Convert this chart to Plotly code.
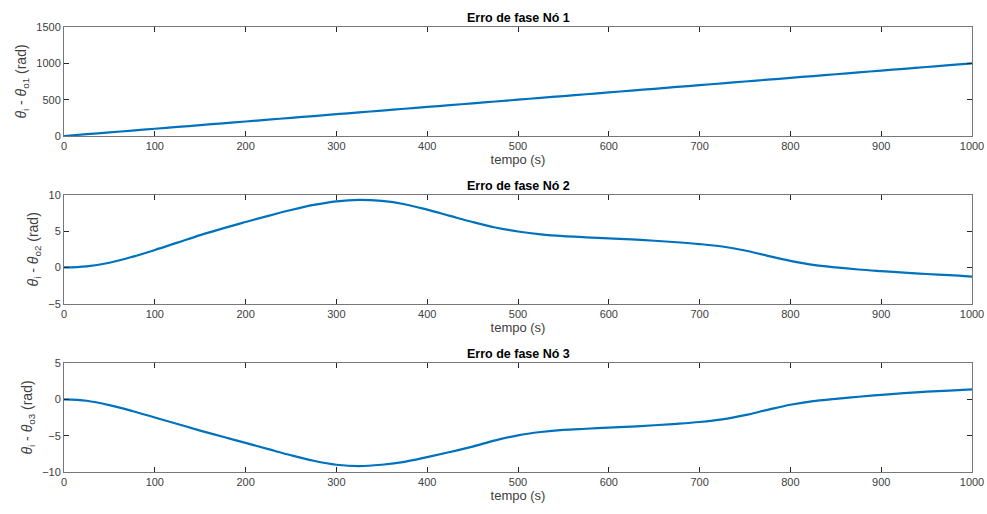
import plotly.graph_objects as go
from plotly.subplots import make_subplots

# time samples (s)
tempo = [0, 25, 50, 75, 100, 125, 150, 175, 200, 225, 250, 275, 300, 325, 350, 375,
         400, 425, 450, 475, 500, 525, 550, 575, 600, 625, 650, 675, 700, 725, 750,
         775, 800, 825, 850, 875, 900, 925, 950, 975, 1000]

# phase error node 1 (rad)
erro_no1 = [0, 25, 50, 75, 100, 125, 150, 175, 200, 225, 250, 275, 300, 325, 350, 375,
            400, 425, 450, 475, 500, 525, 550, 575, 600, 625, 650, 675, 700, 725, 750,
            775, 800, 825, 850, 875, 900, 925, 950, 975, 1000]

# phase error node 2 (rad)
erro_no2 = [0.0, 0.15, 0.65, 1.45, 2.4, 3.42, 4.45, 5.38, 6.25, 7.1, 7.9, 8.6, 9.1, 9.3, 9.15,
            8.7, 7.95, 7.1, 6.25, 5.5, 4.95, 4.55, 4.3, 4.15, 4.0, 3.85, 3.67, 3.47, 3.22, 2.88,
            2.33, 1.6, 0.9, 0.35, 0.0, -0.28, -0.5, -0.7, -0.9, -1.05, -1.25]

# phase error node 3 (rad)
erro_no3 = [0.0, -0.2, -0.8, -1.6, -2.5, -3.4, -4.3, -5.15, -6.0, -6.85, -7.7, -8.45, -9.0, -9.2, -9.0,
            -8.6, -7.95, -7.25, -6.5, -5.65, -4.95, -4.5, -4.2, -4.05, -3.9, -3.75, -3.57, -3.37, -3.12, -2.76,
            -2.18, -1.45, -0.75, -0.25, 0.05, 0.35, 0.62, 0.85, 1.05, 1.2, 1.38]

titulos = ["Erro de fase Nó 1", "Erro de fase Nó 2", "Erro de fase Nó 3"]
ylabels = ["<i>θ</i><sub>i</sub> - <i>θ</i><sub>o1</sub> (rad)",
           "<i>θ</i><sub>i</sub> - <i>θ</i><sub>o2</sub> (rad)",
           "<i>θ</i><sub>i</sub> - <i>θ</i><sub>o3</sub> (rad)"]
yranges = [[0, 1500], [-5, 10], [-10, 5]]
ytickvals = [[0, 500, 1000, 1500], [-5, 0, 5, 10], [-10, -5, 0, 5]]
xticks = [0, 100, 200, 300, 400, 500, 600, 700, 800, 900, 1000]

series = [erro_no1, erro_no2, erro_no3]

fig = make_subplots(rows=3, cols=1, vertical_spacing=0.13)

FONT = "Liberation Sans, Arial, Helvetica, sans-serif"
AX = "#262626"
LBL = "#404040"

domains = [[0.755, 1.0], [0.378, 0.623], [0.0, 0.245]]

for i, ys in enumerate(series):
    fig.add_trace(go.Scatter(x=tempo, y=ys, mode="lines",
                             line=dict(color="#0072BD", width=2.2, shape="spline", smoothing=1.0),
                             showlegend=False), row=i + 1, col=1)
    fig.update_xaxes(row=i + 1, col=1, range=[0, 1000], tickvals=xticks,
                     ticks="inside", ticklen=5, tickcolor=AX, showline=True,
                     linecolor="#777777", linewidth=1, mirror="ticks", showgrid=False,
                     zeroline=False, automargin=False,
                     tickfont=dict(family=FONT, size=11, color=LBL),
                     title=dict(text="tempo (s)", standoff=3,
                                font=dict(family=FONT, size=13, color=LBL)))
    fig.update_yaxes(row=i + 1, col=1, range=yranges[i], tickvals=ytickvals[i],
                     domain=domains[i], automargin=False,
                     ticks="inside", ticklen=5, tickcolor=AX, showline=True,
                     linecolor="#777777", linewidth=1, mirror="ticks", showgrid=False,
                     zeroline=False, tickfont=dict(family=FONT, size=11, color=LBL),
                     title=dict(text=ylabels[i], standoff=6,
                                font=dict(family=FONT, size=14, color=LBL)))

annotations = []
for i, t in enumerate(titulos):
    annotations.append(dict(text="<b>" + t + "</b>", x=0.5, xref="paper",
                            y=domains[i][1], yref="paper", yanchor="bottom",
                            yshift=0, showarrow=False,
                            font=dict(family=FONT, size=12.5, color="#000000")))

fig.update_layout(width=987, height=514, margin=dict(l=64, r=15, t=27, b=42),
                  plot_bgcolor="white", paper_bgcolor="white",
                  annotations=annotations)

fig.write_html("out.html", config={"displayModeBar": False},
               post_script="document.body.style.margin='0px';"
                           "document.body.style.overflow='hidden';"
                           "document.documentElement.style.overflow='hidden';")
